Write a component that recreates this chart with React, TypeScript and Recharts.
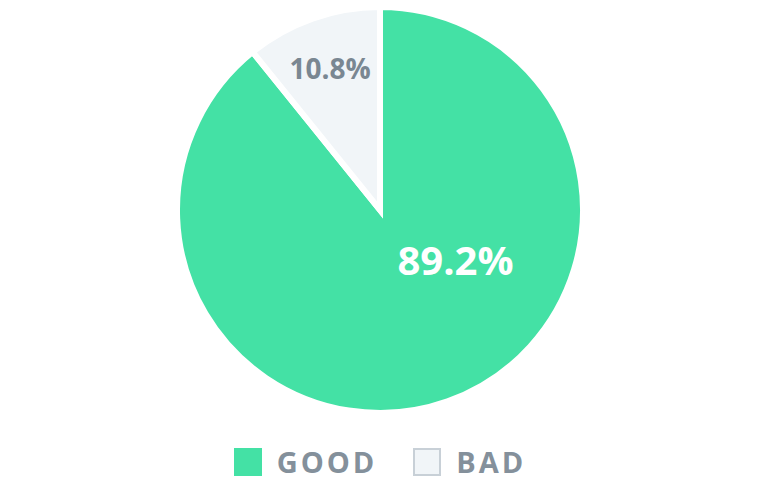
import React from 'react';
import { PieChart, Pie, Cell, Legend } from 'recharts';

const categories = ['GOOD', 'BAD'];
const values = [89.2, 10.8];
const colors = ['#44E1A5', '#F1F5F8'];
const labelColors = ['#FFFFFF', '#7A8792'];

const data = categories.map((name, i) => ({ name, value: values[i] }));

const RADIAN = Math.PI / 180;

const renderLabel = (props: any) => {
  const { cx, cy, outerRadius, startAngle, endAngle, midAngle, index, value } = props;
  const big = index === 0;
  // the large slice keeps its label in the right-hand part of the pie
  const angle = big ? startAngle + (endAngle - startAngle) * 0.384 : midAngle;
  const r = outerRadius * (big ? 0.445 : 0.74);
  const x = cx + r * Math.cos(-angle * RADIAN);
  const y = cy + r * Math.sin(-angle * RADIAN);
  return (
    <text
      x={x}
      y={y}
      fill={labelColors[index]}
      textAnchor="middle"
      dominantBaseline="central"
      fontFamily="'Open Sans', sans-serif"
      fontWeight={700}
      fontSize={big ? 40 : 28}
    >
      {`${value.toFixed(1)}%`}
    </text>
  );
};

const renderLegend = () => (
  <div style={{ display: 'flex', justifyContent: 'center', alignItems: 'center', gap: 36, height: 32 }}>
    {categories.map((name, i) => (
      <div key={name} style={{ display: 'flex', alignItems: 'center', height: 32 }}>
        <span
          style={{
            width: i === 1 ? 24 : 28,
            height: i === 1 ? 24 : 28,
            background: colors[i],
            border: i === 1 ? '2px solid #C8D0D7' : 'none',
            display: 'inline-block',
            marginRight: 15,
          }}
        />
        <span
          style={{
            fontFamily: "'Open Sans', sans-serif",
            fontWeight: 700,
            fontSize: 29,
            letterSpacing: 3,
            color: '#84909B',
            lineHeight: '32px',
          }}
        >
          {name}
        </span>
      </div>
    ))}
  </div>
);

export default function App() {
  return (
    <div style={{ position: 'absolute', left: 0, top: 0, width: 760, height: 480, background: '#fff' }}>
      <PieChart width={760} height={480} margin={{ top: 0, right: 0, bottom: 0, left: 0 }}>
        <Pie
          data={data}
          dataKey="value"
          nameKey="name"
          cx={380}
          cy={210}
          outerRadius={203}
          startAngle={90}
          endAngle={-270}
          stroke="#FFFFFF"
          strokeWidth={6}
          labelLine={false}
          label={renderLabel}
          isAnimationActive={false}
        >
          {data.map((d, i) => (
            <Cell key={d.name} fill={colors[i]} />
          ))}
        </Pie>
        <Legend content={renderLegend} wrapperStyle={{ top: 446, left: 0, width: 760, height: 32 }} />
      </PieChart>
    </div>
  );
}
